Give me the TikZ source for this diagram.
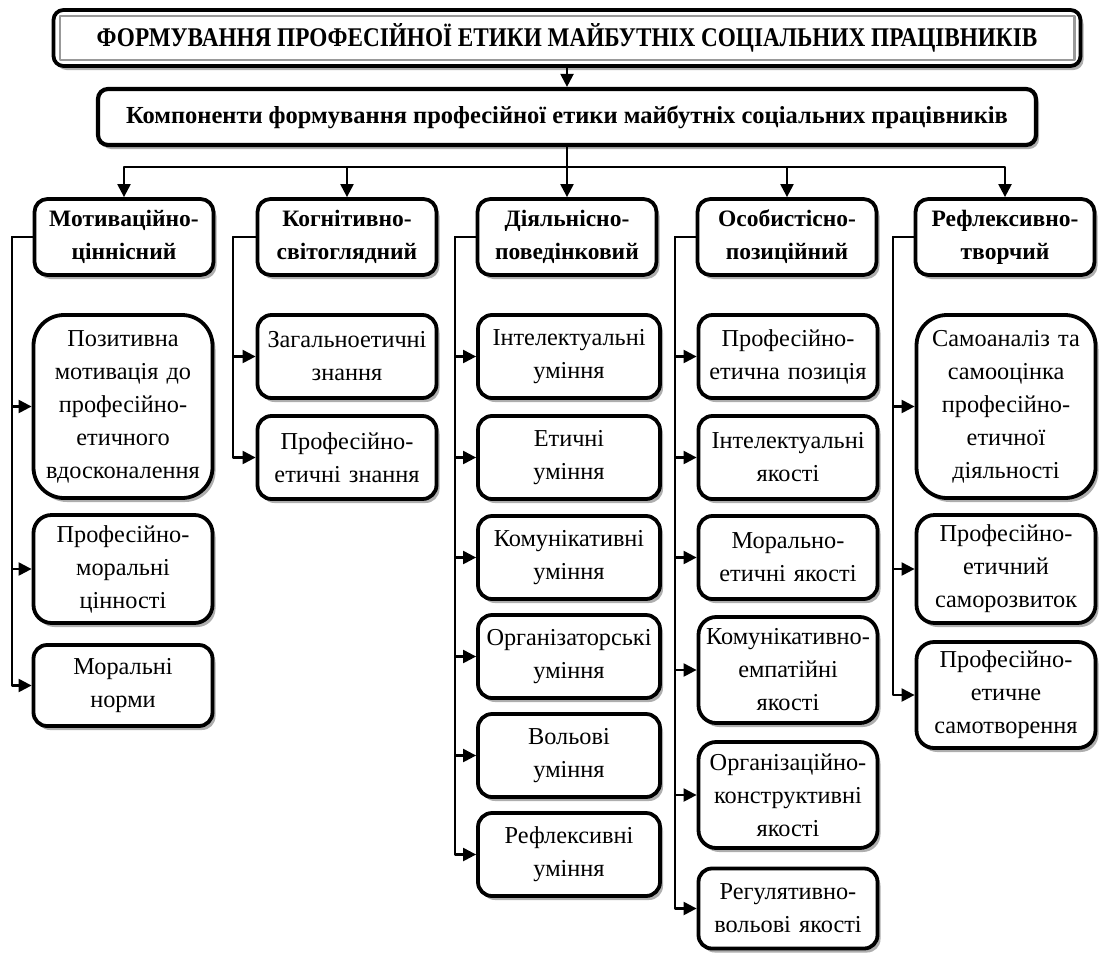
\documentclass[tikz,border=0pt]{standalone}
\usepackage{fontspec}
\setmainfont{Liberation Serif}
\newfontfamily\narrowfont[FakeStretch=0.86]{Liberation Serif}
\usetikzlibrary{arrows.meta,calc,shadows}
\usetikzlibrary{positioning}

\begin{document}
\begin{tikzpicture}[x=1pt, y=-1pt, line join=round]
    \tikzstyle{shade}=[drop shadow={shadow xshift=3pt, shadow yshift=-4pt, opacity=0.45, fill=black!70}]
    \tikzstyle{item}=[draw, line width=3.8pt, fill=white, shade, align=center, text width=178pt, minimum width=179pt, inner sep=0pt, font=\fontsize{24.3}{33}\selectfont]
    \tikzstyle{head}=[item, minimum height=76pt, rounded corners=13pt, font=\fontsize{23.5}{33}\selectfont\bfseries]
    \tikzstyle{link}=[line width=2.2pt]
    \tikzstyle{arr}=[link, -{Triangle[length=13pt, width=13pt]}]
    \useasboundingbox (0,0) rectangle (1099,953);

    % title and components
    \node[draw, line width=3.8pt, rounded corners=10pt, fill=white, shade, minimum width=1027pt, minimum height=56pt, inner sep=0pt,
          font=\narrowfont\bfseries\fontsize{27}{30}\selectfont] (title) at (567,38)
          {ФОРМУВАННЯ ПРОФЕСІЙНОЇ ЕТИКИ МАЙБУТНІХ СОЦІАЛЬНИХ ПРАЦІВНИКІВ};
    \draw[black!40, line width=2.2pt] ($(title.north west)+(8,8)$) rectangle ($(title.south east)+(-8,-8)$);
    \node[draw, line width=4.2pt, rounded corners=10pt, fill=white, shade, minimum width=938pt, minimum height=56pt,
          font=\fontsize{24.5}{28}\selectfont\bfseries] (comp) at (567,117)
          {Компоненти формування професійної етики майбутніх соціальних працівників};
    \draw[arr] (title.south) -- (comp.north);

    \coordinate (bar) at (567,167);
    \foreach \nm/\xc/\txt in {hm/124/{Мотиваційно-\\ціннісний}, hk/347/{Когнітивно-\\світоглядний},
                              hd/567/{Діяльнісно-\\поведінковий}, ho/787/{Особистісно-\\позиційний},
                              hr/1005/{Рефлексивно-\\творчий}}{
        \node[head] (\nm) at (\xc,237) {\txt};
        \draw[arr] (comp.south) |- (bar) -| (\nm.north);
    }

    % rails
    \coordinate (rm) at (12,237);
    \coordinate (rk) at (233,237);
    \coordinate (rd) at (455,237);
    \coordinate (ro) at (675,237);
    \coordinate (rr) at (893,237);

    \foreach \i/\yc/\hh/\txt [evaluate=\hh as \rc using \hh/6] in {
        1/406.5/183/{Позитивна\\мотивація до\\професійно-\\етичного\\вдосконалення},
        2/569/108/{Професійно-\\моральні\\цінності},
        3/685.5/81/{Моральні\\норми}}{
        \node[item, minimum height=\hh pt, rounded corners=\rc pt] (m\i) at (123,\yc) {\txt};
        \draw[arr] (hm.west) -- (rm) |- (m\i.west);
    }
    \foreach \i/\yc/\txt in {1/356.5/{Загальноетичні\\знання}, 2/457.5/{Професійно-\\етичні знання}}{
        \node[item, minimum height=83pt, rounded corners=14pt] (k\i) at (347,\yc) {\txt};
        \draw[arr] (hk.west) -- (rk) |- (k\i.west);
    }
    \foreach \i/\yc/\txt in {1/356.5/{Інтелектуальні\\уміння}, 2/457.5/{Етичні\\уміння},
                             3/557.5/{Комунікативні\\уміння}, 4/656.5/{Організаторські\\уміння},
                             5/755.5/{Вольові\\уміння}, 6/854.5/{Рефлексивні\\уміння}}{
        \node[item, minimum width=182pt, minimum height=83pt, rounded corners=14pt] (d\i) at (569,\yc) {\txt};
        \draw[arr] (hd.west) -- (rd) |- (d\i.west);
    }
    \foreach \i/\yc/\hh/\txt [evaluate=\hh as \rc using \hh/6] in {
        1/356.5/83/{Професійно-\\етична позиція}, 2/457.5/83/{Інтелектуальні\\якості},
        3/557.5/83/{Морально-\\етичні якості}, 4/670/106/{Комунікативно-\\емпатійні\\якості},
        5/795/106/{Організаційно-\\конструктивні\\якості}, 6/908.5/80/{Регулятивно-\\вольові якості}}{
        \node[item, minimum height=\hh pt, rounded corners=\rc pt] (o\i) at (788,\yc) {\txt};
        \draw[arr] (ho.west) -- (ro) |- (o\i.west);
    }
    \foreach \i/\yc/\hh/\txt [evaluate=\hh as \rc using \hh/6] in {
        1/406.5/183/{Самоаналіз та\\самооцінка\\професійно-\\етичної\\діяльності},
        2/569/108/{Професійно-\\етичний\\саморозвиток},
        3/695/106/{Професійно-\\етичне\\самотворення}}{
        \node[item, minimum height=\hh pt, rounded corners=\rc pt] (r\i) at (1006,\yc) {\txt};
        \draw[arr] (hr.west) -- (rr) |- (r\i.west);
    }
\end{tikzpicture}
\end{document}
